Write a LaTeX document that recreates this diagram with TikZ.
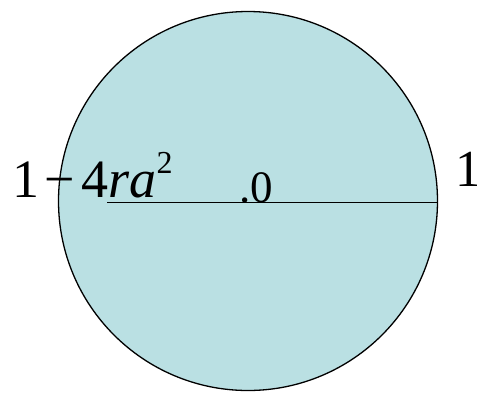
\documentclass[tikz,border=0pt]{standalone}
\usepackage{fontspec}
\setmainfont{Liberation Serif}
\usepackage{xcolor}
\usetikzlibrary{calc, positioning}
\definecolor{diskblue}{RGB}{186,224,227}
\begin{document}
\begin{tikzpicture}[x=1pt, y=-1pt,
			disk/.style={draw, line width=1.3pt, circle, fill=diskblue, minimum size=379pt, inner sep=0pt},
			biglabel/.style={anchor=base west, inner sep=0pt, font=\fontsize{54}{54}\selectfont},
			midlabel/.style={anchor=base west, inner sep=0pt, font=\fontsize{45}{45}\selectfont}
			]
			\useasboundingbox (0,0) rectangle (477,392);
			\node [disk](d) at (248,201) {};
			\coordinate (axisL) at (107,202.5);
			\draw[line width=1.5pt, black] (axisL) -- (axisL -| d.east);
			\node [biglabel](lft) at (12,197) {1\hspace{5pt}\char"2212\hspace{7pt}4\textit{ra}\raisebox{24pt}{\fontsize{32}{32}\selectfont 2}};
			\node [midlabel](ctr) at (239,202) {.0};
			\node [biglabel, font=\fontsize{52}{52}\selectfont](rgt) at (455,186) {1};
		\end{tikzpicture}
\end{document}
